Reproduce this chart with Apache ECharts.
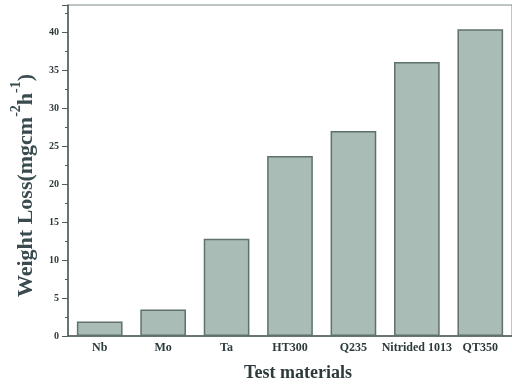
<!DOCTYPE html>
<html><head><meta charset="utf-8">
<script src="https://cdn.jsdelivr.net/npm/echarts@6/dist/echarts.min.js"></script>
<style>html,body{margin:0;padding:0;background:#fff}#c{width:512px;height:387px}</style>
</head><body><div id="c"></div>
<script>
var categories = ['Nb', 'Mo', 'Ta', 'HT300', 'Q235', 'Nitrided 1013', 'QT350'];
var weightLoss = [1.9, 3.5, 12.8, 23.7, 27.0, 36.1, 40.4];
var yTicks = [0, 5, 10, 15, 20, 25, 30, 35, 40];

var chart = echarts.init(document.getElementById('c'));
var serif = '"Liberation Serif", "DejaVu Serif", serif';
var txt = '#2c3a3c';
chart.setOption({
  animation: false,
  grid: { left: 68, top: 5, width: 450, bottom: 47, show: true, borderColor: '#7d8b88', borderWidth: 1, backgroundColor: 'transparent' },
  xAxis: {
    type: 'category',
    data: categories,
    name: 'Test materials',
    nameLocation: 'middle',
    nameGap: 28,
    nameTextStyle: { fontFamily: serif, fontWeight: 'bold', fontSize: 18, color: txt, padding: [0, 0, 0, 16] },
    axisLine: { lineStyle: { color: '#4d5c59', width: 1.5 } },
    axisTick: { show: false },
    axisLabel: { fontFamily: serif, fontWeight: 'bold', fontSize: 12, color: txt, margin: 6, interval: 0 }
  },
  yAxis: {
    type: 'value',
    min: 0,
    max: 43.6,
    interval: 5,
    name: '{m|Weight Loss(mgcm}{s|-2}{m|h}{s|-1}{m|)}',
    nameLocation: 'middle',
    nameGap: 31,
    nameTextStyle: {
      padding: [0, 0, 0, -30],
      rich: {
        m: { fontFamily: serif, fontWeight: 'bold', fontSize: 22, color: '#3a4b50', lineHeight: 28, verticalAlign: 'bottom' },
        s: { fontFamily: serif, fontWeight: 'bold', fontSize: 14, color: '#3a4b50', lineHeight: 28, verticalAlign: 'top' }
      }
    },
    axisLine: { show: true, lineStyle: { color: '#4d5c59', width: 1.5 } },
    axisTick: { show: true, inside: false, length: 6, lineStyle: { color: '#4d5c59' } },
    minorTick: { show: true, splitNumber: 2, length: 3, lineStyle: { color: '#4d5c59' } },
    splitLine: { show: false },
    axisLabel: {
      fontFamily: serif, fontWeight: 'bold', fontSize: 10, color: txt, margin: 9,
      formatter: function (v) { return yTicks.indexOf(v) >= 0 ? String(v) : ''; }
    }
  },
  series: [{
    type: 'bar',
    data: weightLoss,
    barCategoryGap: '28%',
    itemStyle: { color: '#a9bcb6', borderColor: '#5f716c', borderWidth: 1.5 }
  }]
});
</script></body></html>
